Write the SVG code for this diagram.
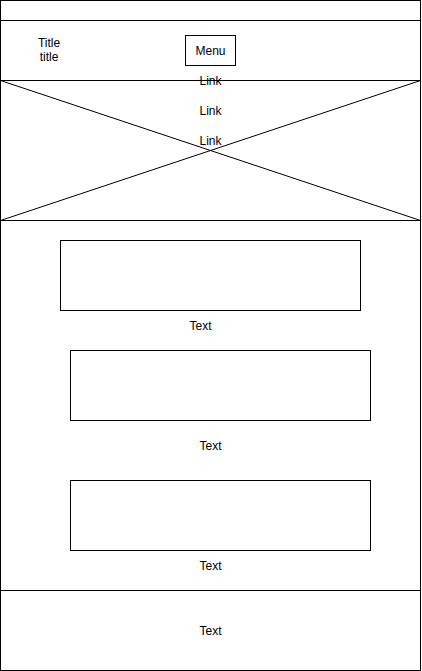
<svg xmlns="http://www.w3.org/2000/svg" width="422" height="671" viewBox="0 0 422 671">
<style>
.s{fill:#fff;stroke:#000;stroke-width:1}
.l{fill:none;stroke:#000;stroke-width:1}
text{font-family:"Liberation Sans",Arial,sans-serif;font-size:12px;fill:#000;text-anchor:middle}
</style>
<rect width="422" height="671" fill="#fff"/>
<g id="page"><rect class="s" x="0.5" y="0.5" width="420" height="670"/></g>
<g id="topbar"><rect class="s" x="0.5" y="0.5" width="420" height="20"/></g>
<g id="header"><rect class="s" x="0.5" y="20.5" width="420" height="60"/></g>
<g id="title"><text x="49" y="47">Title</text><text x="49" y="61">title</text></g>
<g id="menu"><rect class="s" x="185.5" y="35.5" width="50" height="30"/><text x="210.5" y="55">Menu</text></g>
<g id="hero"><rect class="s" x="0.5" y="80.5" width="420" height="140"/></g>
<g id="connectors">
<line class="l" x1="0.5" y1="80.5" x2="420.5" y2="220.5"/>
<line class="l" x1="420.5" y1="80.5" x2="0.5" y2="220.5"/>
</g>
<g id="link1"><text x="210.5" y="85">Link</text></g>
<g id="link2"><text x="210.5" y="115">Link</text></g>
<g id="link3"><text x="210.5" y="145">Link</text></g>
<g id="box1"><rect class="s" x="60.5" y="240.5" width="300" height="70"/></g>
<g id="text1"><text x="200.5" y="330">Text</text></g>
<g id="box2"><rect class="s" x="70.5" y="350.5" width="300" height="70"/></g>
<g id="text2"><text x="210.5" y="450">Text</text></g>
<g id="box3"><rect class="s" x="70.5" y="480.5" width="300" height="70"/></g>
<g id="text3"><text x="210.5" y="570">Text</text></g>
<g id="footer"><rect class="s" x="0.5" y="590.5" width="420" height="80"/><text x="210.5" y="635">Text</text></g>
</svg>
